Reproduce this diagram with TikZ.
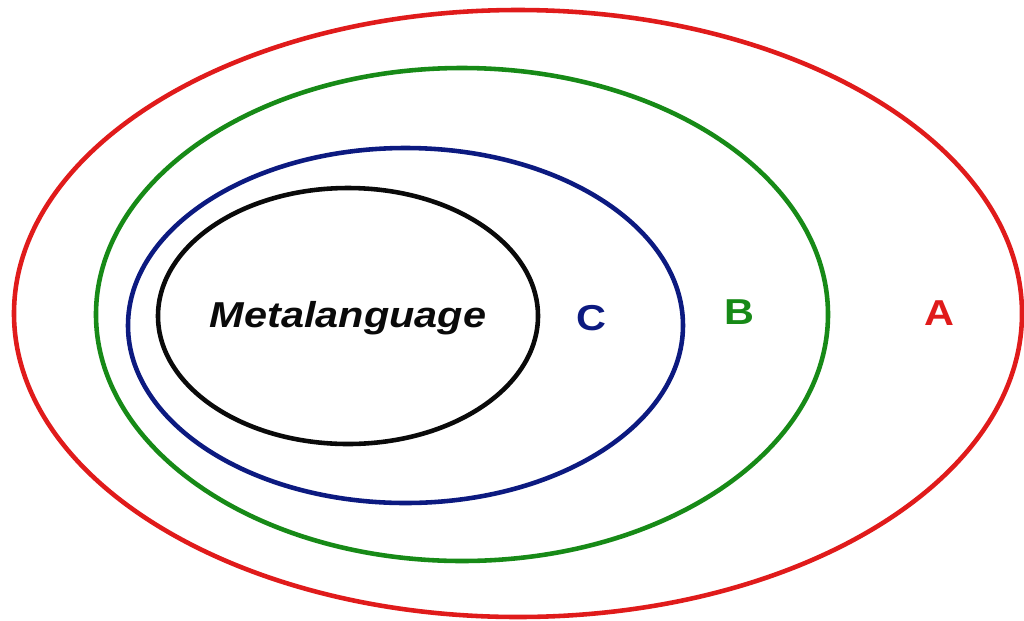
\documentclass[tikz,border=0pt]{standalone}
\usepackage{fontspec}
\setsansfont{Liberation Sans}
\definecolor{setared}{HTML}{E01B1B}
\definecolor{setbgreen}{HTML}{178A17}
\definecolor{setcblue}{HTML}{0C1A80}
\definecolor{metablack}{HTML}{0A0A0A}
\tikzset{
  setline/.style={line width=2.6pt},
  setlabel/.style={font=\sffamily\bfseries\fontsize{20.5}{24}\selectfont, xscale=1.15, inner sep=0pt},
  metalabel/.style={setlabel, font=\sffamily\bfseries\itshape\fontsize{20.5}{24}\selectfont}
}

\begin{document}
\begin{tikzpicture}

\useasboundingbox[fill=white] (0,0) rectangle (20.48,-12.4);

% nested sets
\draw[setline, draw=setared] (10.36,-6.27) ellipse [x radius=10.08, y radius=6.07];
\draw[setline, draw=setbgreen] (9.24,-6.29) ellipse [x radius=7.32, y radius=4.93];
\draw[setline, draw=setcblue] (8.11,-6.51) ellipse [x radius=5.55, y radius=3.55];
\draw[setline, draw=metablack] (6.96,-6.32) ellipse [x radius=3.80, y radius=2.56];

% labels
\node[metalabel, text=metablack] (meta) at (6.96,-6.36) {Metalanguage};
\node[setlabel, text=setcblue] (labc) at (11.82,-6.36) {C};
\node[setlabel, text=setbgreen] (labb) at (14.78,-6.24) {B};
\node[setlabel, text=setared] (laba) at (18.78,-6.26) {A};

\end{tikzpicture}
\end{document}
